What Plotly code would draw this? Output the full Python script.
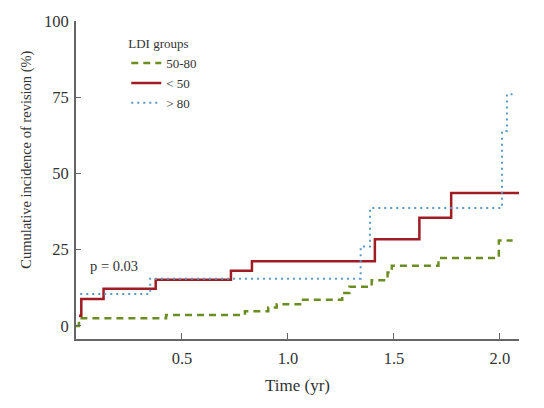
import plotly.graph_objects as go

# Step data (time in years, cumulative incidence %)
t_50_80 = [0.0, 0.014, 0.425, 0.797, 0.907, 0.947, 1.057, 1.256, 1.29, 1.395, 1.47, 1.49, 1.71, 1.995, 2.06]
y_50_80 = [0.0, 2.5, 3.6, 4.8, 6.0, 7.1, 8.6, 10.8, 12.8, 15.0, 17.5, 19.7, 22.3, 28.0, 28.0]

t_lt50 = [0.014, 0.025, 0.13, 0.376, 0.731, 0.83, 1.41, 1.62, 1.77, 2.097]
y_lt50 = [3.3, 8.8, 12.2, 15.1, 18.1, 21.2, 28.4, 35.5, 43.6, 43.6]

t_gt80 = [0.02, 0.35, 1.343, 1.387, 2.01, 2.033, 2.066]
y_gt80 = [10.5, 15.5, 26.0, 38.7, 63.9, 76.0, 76.0]

x_ticks = [0.5, 1.0, 1.5, 2.0]
x_tick_labels = ["0.5", "1.0", "1.5", "2.0"]
y_ticks = [0, 25, 50, 75, 100]
y_tick_labels = ["0", "25", "50", "75", "100"]

FONT = "Liberation Serif"
TXT = "#333333"

fig = go.Figure()
fig.add_trace(go.Scatter(x=t_50_80, y=y_50_80, mode="lines", name="50-80",
                         line=dict(shape="hv", color="#6b8e23", width=2.5, dash="7px,5px")))
fig.add_trace(go.Scatter(x=t_lt50, y=y_lt50, mode="lines", name="< 50",
                         line=dict(shape="hv", color="#9e1c22", width=2.5)))
fig.add_trace(go.Scatter(x=t_gt80, y=y_gt80, mode="lines", name="> 80",
                         line=dict(shape="hv", color="#5a9ac6", width=2, dash="2px,4px")))

fig.add_annotation(x=0.055, y=19.5, xref="x", yref="y", text="p = 0.03", showarrow=False,
                   xanchor="left", yanchor="middle", font=dict(family=FONT, size=14.5, color=TXT))
# axis titles
fig.add_annotation(x=0.5, y=-0.145, xref="paper", yref="paper", text="Time (yr)", showarrow=False,
                   xanchor="center", yanchor="middle", font=dict(family=FONT, size=17, color=TXT))
fig.add_annotation(x=-0.111, y=0.563, xref="paper", yref="paper", text="Cumulative incidence of revision (%)",
                   showarrow=False, textangle=-90, xanchor="center", yanchor="middle",
                   font=dict(family=FONT, size=14.5, color=TXT))

# page body has an 8px margin, so the figure is 8px smaller and margins are shifted
fig.update_layout(
    width=536, height=400,
    margin=dict(l=68, r=25, t=13, b=69, autoexpand=False),
    paper_bgcolor="white", plot_bgcolor="white",
    font=dict(family=FONT, size=14, color=TXT),
    showlegend=True,
    legend=dict(x=0.1135, y=0.968, xanchor="left", yanchor="top",
                bgcolor="rgba(0,0,0,0)", font=dict(family=FONT, size=13, color=TXT),
                title=dict(text="LDI groups", font=dict(family=FONT, size=13, color=TXT)),
                tracegroupgap=0, itemwidth=30),
    xaxis=dict(range=[0, 2.09], tickvals=x_ticks, ticktext=x_tick_labels, automargin=False,
               showgrid=False, zeroline=False, showline=True, linecolor="#666", linewidth=2,
               ticks="inside", ticklen=6, tickcolor="#666", tickwidth=1, ticklabelstandoff=3,
               tickfont=dict(family=FONT, size=16.5, color=TXT)),
    yaxis=dict(range=[-4.3, 100], tickvals=y_ticks, ticktext=y_tick_labels, automargin=False,
               showgrid=False, zeroline=False, showline=True, linecolor="#666", linewidth=2,
               ticks="inside", ticklen=5, tickcolor="#666", tickwidth=1, ticklabelstandoff=2,
               tickfont=dict(family=FONT, size=16.5, color=TXT)),
)

fig.write_html("out.html")
